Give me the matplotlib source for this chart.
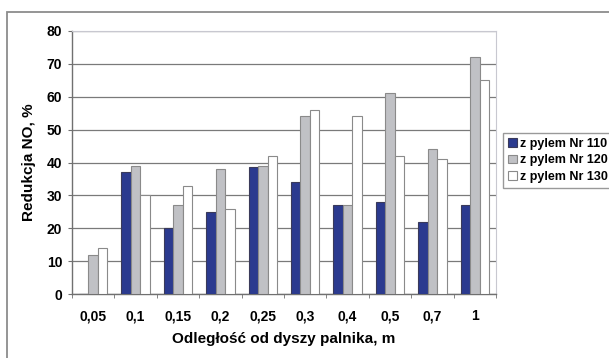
import matplotlib
matplotlib.use("Agg")
import matplotlib.pyplot as plt
import numpy as np

plt.rcParams["font.family"] = ["Liberation Sans", "DejaVu Sans"]
plt.rcParams["font.weight"] = "bold"

# distances from the burner nozzle
categories = ["0,05", "0,1", "0,15", "0,2", "0,25", "0,3", "0,4", "0,5", "0,7", "1"]
series_names = ["z pylem Nr 110", "z pylem Nr 120", "z pylem Nr 130"]
nr110 = [0, 37, 20, 25, 38.5, 34, 27, 28, 22, 27]
nr120 = [12, 39, 27, 38, 39, 54, 27, 61, 44, 72]
nr130 = [14, 30, 33, 26, 42, 56, 54, 42, 41, 65]
y_ticks = [0, 10, 20, 30, 40, 50, 60, 70, 80]

FACE = ["#2b3a8f", "#c0c1c5", "#ffffff"]
EDGE = ["#3a3a5a", "#8a8a8a", "#8a8a8a"]

fig = plt.figure(figsize=(6.09, 3.58), dpi=100)

# outer chart border
fig.patches.append(plt.Rectangle((7 / 609, -0.05), 1.1, (358 - 12) / 358 + 0.05,
                                 transform=fig.transFigure, fill=False,
                                 edgecolor="#8c8c8c", linewidth=1.3))

ax = fig.add_axes([72 / 609, 64 / 358, 424 / 609, 263 / 358])

x = np.arange(len(categories))
width = 1 / 4.5
for i, vals in enumerate([nr110, nr120, nr130]):
    ax.bar(x + (i - 1) * width, vals, width, color=FACE[i], edgecolor=EDGE[i],
           linewidth=0.8, label=series_names[i], zorder=3)

ax.set_xlim(-0.5, len(categories) - 0.5)
ax.set_ylim(0, 80)
ax.set_yticks(y_ticks)
ax.set_xticks(x)
ax.set_xticklabels(categories)
ax.set_xticks(np.arange(len(categories) + 1) - 0.5, minor=True)
ax.tick_params(axis="x", which="major", length=0, pad=11, labelsize=10)
ax.tick_params(axis="x", which="minor", length=3, color="#707070", direction="out")
ax.tick_params(axis="y", length=3, color="#707070", labelsize=10, pad=4)
for lab in ax.get_xticklabels() + ax.get_yticklabels():
    lab.set_fontweight("bold")

ax.grid(axis="y", color="#7a7a7a", linewidth=0.9, zorder=0)
for side in ["top", "right"]:
    ax.spines[side].set_color("#c8c8d0")
    ax.spines[side].set_linewidth(0.8)
for side in ["left", "bottom"]:
    ax.spines[side].set_color("#707070")
    ax.spines[side].set_linewidth(1.0)

ax.set_ylabel("Redukcja NO, %", fontsize=11, fontweight="bold", labelpad=8)
ax.set_xlabel("Odległość od dyszy palnika, m", fontsize=11, fontweight="bold", labelpad=6)

leg = ax.legend(loc="upper left", bbox_to_anchor=(503 / 609, (358 - 133) / 358),
                bbox_transform=fig.transFigure, fontsize=9, frameon=True,
                fancybox=False, edgecolor="#808080", handlelength=0.7,
                handleheight=0.7, handletextpad=0.3, borderpad=0.4,
                labelspacing=0.35, borderaxespad=0)
for t in leg.get_texts():
    t.set_fontweight("bold")

fig.savefig("out.png", dpi=100)
